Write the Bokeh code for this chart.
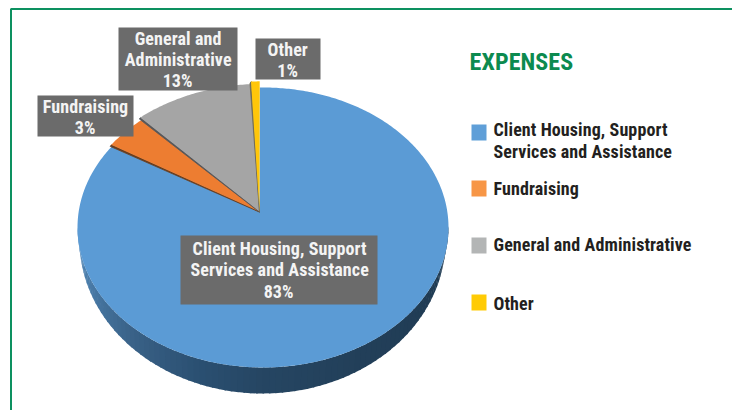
import numpy as np
from bokeh.plotting import figure
from bokeh.embed import file_html
from bokeh.resources import INLINE
from bokeh.core.properties import value

# ---- data ----
categories = ["Client Housing, Support Services and Assistance", "Fundraising",
              "General and Administrative", "Other"]
labelled_percent = [83, 3, 13, 1]
drawn_share = [83.6, 4.3, 11.3, 0.8]   # slice sizes as drawn in the picture
slice_colors = ["#5b9bd5", "#ed7d31", "#a5a5a5", "#ffc60a"]
edge_colors = [None, "#6b3d1c", "#55585c", "#6e6a55"]
pop_out = [1.0, 1.01, 1.03, 1.05]
legend_colors = ["#5f9fd8", "#f79646", "#b3b5b5", "#ffcb05"]
legend_lines = [["Client Housing, Support", "Services and Assistance"], ["Fundraising"],
                ["General and Administrative"], ["Other"]]
label_lines = [["Client Housing, Support", "Services and Assistance", "83%"],
               ["Fundraising", "3%"], ["General and", "Administrative", "13%"], ["Other", "1%"]]
title = "EXPENSES"

# ---- layout (page pixels) ----
CX, CY, RX, RY = 262.5, 227.0, 185.5, 140.0
TIP = (259.0, 211.0)
LOW = (262.0, 240.0, 183.0, 153.0)
label_boxes = [(180, 377, 235, 304), (37, 133, 95, 136), (118, 237, 27, 90), (255, 320, 38, 79)]
label_first_y = [248, 106, 37.5, 49]
label_step = 21.3
legend_boxes_y = [124, 180, 237, 294]
legend_text_y = [129, 151, 188, 244, 303]
FONT = value("Roboto Condensed")

p = figure(width=732, height=410, x_range=(0, 732), y_range=(410, 0), output_backend="svg",
           toolbar_location=None, min_border=0, outline_line_color=None)
p.axis.visible = False
p.grid.visible = False
p.stylesheets = [":host { letter-spacing: 0.1px; }"]

# border
p.line([10.5, 10.5, 732], [410, 8.5, 8.5], line_color="#0d9160", line_width=2)

# perspective: true pie angle -> point on the rim
k = np.array([(TIP[0] - CX) / RX, (CY - TIP[1]) / RY])
g = np.sqrt(1 - k @ k)
def rim(frac):
    a = 2 * np.pi * np.asarray(frac)
    u, v = np.sin(a), np.cos(a)
    d = u * k[0] + v * k[1]
    s = d / (k @ k)
    X = (s * k[0] + k[0] + g * (u - s * k[0])) / (1 + d)
    Y = (s * k[1] + k[1] + g * (v - s * k[1])) / (1 + d)
    return CX + RX * X, CY - RY * Y

# side wall of the pie
stops_t = [180, 200, 225, 250, 270, 300, 340, 360]
stops_c = [(0x55, 0x8b, 0xbc), (0x4a, 0x7c, 0xa8), (0x3a, 0x62, 0x88), (0x2b, 0x50, 0x72),
           (0x26, 0x46, 0x63), (0x23, 0x40, 0x5a), (0x20, 0x3c, 0x54), (0x1f, 0x3a, 0x52)]
ts = np.linspace(180, 360, 91)
for a, b in zip(ts[:-1], ts[1:]):
    tt = np.radians([a, b + 0.5])
    x0, y0 = CX + RX * np.cos(tt), CY - RY * np.sin(tt)
    x1, y1 = LOW[0] + LOW[2] * np.cos(tt), LOW[1] - LOW[3] * np.sin(tt)
    c = [int(np.interp((a + b) / 2, stops_t, [s[i] for s in stops_c])) for i in range(3)]
    col = "#%02x%02x%02x" % tuple(c)
    p.patch(list(x0) + list(x1[::-1]), list(y0) + list(y1[::-1]), fill_color=col, line_color=None)

# faces
bounds = np.concatenate([[0], np.cumsum(drawn_share)]) / sum(drawn_share)
for i in range(len(categories)):
    fr = np.linspace(bounds[i], bounds[i + 1], max(6, int(drawn_share[i] * 5)))
    rx, ry = rim(fr)
    rx = TIP[0] + (rx - TIP[0]) * pop_out[i]
    ry = TIP[1] + (ry - TIP[1]) * pop_out[i]
    if edge_colors[i]:
        p.patch([TIP[0], rx[0] - 1.0, rx[0] + 0.3, TIP[0]], [TIP[1] + 0.6, ry[0] + 1.5, ry[0], TIP[1]],
                fill_color=edge_colors[i], line_color=edge_colors[i], line_width=0.8)
    p.patch([TIP[0]] + list(rx), [TIP[1]] + list(ry), fill_color=slice_colors[i], line_color=None)

# data labels
for box, first, lines in zip(label_boxes, label_first_y, label_lines):
    p.quad(left=[box[0]], right=[box[1]], top=[box[2]], bottom=[box[3]], fill_color="#6b6b6b", line_color=None)
    ys = [first + n * label_step for n in range(len(lines))]
    xs = [(box[0] + box[1]) / 2 - 0.5] * len(lines)
    p.text(xs, ys, text=lines, text_color="#f4f4f4", text_font=FONT, text_font_style="bold",
           text_font_size="18px", text_align="center", text_baseline="middle")

# title + legend
p.text([469], [61], text=[title], text_color="#0c8a4f", text_font=FONT, text_font_style="bold",
       text_font_size="24px", text_align="left", text_baseline="middle")
flat = [line for lines in legend_lines for line in lines]
p.text([493] * len(flat), legend_text_y, text=flat, text_color="#231f20", text_font=FONT, text_font_style="bold",
       text_font_size="18px", text_align="left", text_baseline="middle")
for y0, col in zip(legend_boxes_y, legend_colors):
    p.quad(left=[471], right=[486], top=[y0], bottom=[y0 + 16], fill_color=col, line_color=None)

open("out.html", "w").write(file_html(p, INLINE))
